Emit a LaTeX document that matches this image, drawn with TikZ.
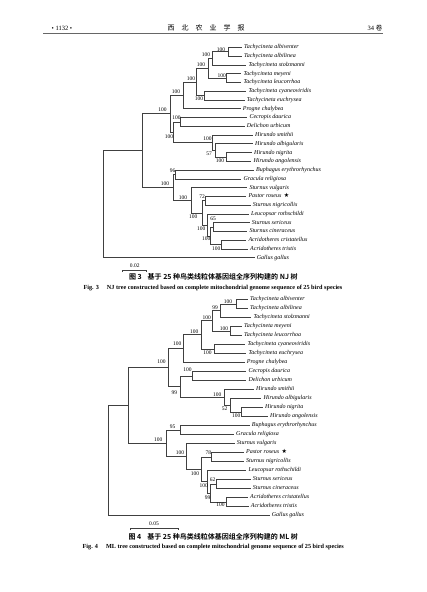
\documentclass[tikz,border=0pt]{standalone}
\usepackage{fontspec}
\setmainfont{Liberation Serif}
\newfontfamily\cjk{Noto Sans CJK SC}
\newfontfamily\cjkb{Noto Sans CJK SC Bold}
\newfontfamily\symf{DejaVu Sans}
\begin{document}
\begin{tikzpicture}[x=1pt,y=-1pt,
  br/.style={draw=black!75, line width=0.5pt},
  leaf/.style={anchor=west, inner xsep=2pt, inner ysep=0pt, font=\fontsize{6}{6}\selectfont\itshape, text height=4.2pt, text depth=1.2pt},
  bs/.style={inner sep=0pt, font=\fontsize{5.5}{5.5}\selectfont},
  hdr/.style={inner sep=0pt, font=\fontsize{6.5}{6.5}\selectfont},
  capzh/.style={inner sep=0pt, font=\fontsize{7}{7}\selectfont\cjkb},
  capen/.style={inner sep=0pt, font=\fontsize{6.2}{6.2}\selectfont\bfseries},
  sbar/.style={draw=black!75, line width=0.5pt},
]
\useasboundingbox (0,0) rectangle (427,592);
% header
\node[hdr] (pg) at (62,28.3) {• 1132 •};
\node[hdr,font=\fontsize{7}{7}\selectfont\cjk] (jt) at (206,28.3) {西\hspace{7pt}北\hspace{7pt}农\hspace{7pt}业\hspace{7pt}学\hspace{7pt}报};
\node[hdr] (vol) at (375,28.3) {34 {\cjk 卷}};
\coordinate (hl1) at (43.3,33.7);
\coordinate (hl2) at (383.3,33.7);
\draw[black!60, line width=0.9pt] (hl1) -- (hl2);

% ================= NJ tree =================
\node[leaf] (n0) at (242,47.3) {Tachycineta albiventer};
\node[leaf] (n1) at (242,56.07) {Tachycineta albilinea};
\node[leaf] (n2) at (246.3,64.83) {Tachycineta stolzmanni};
\node[leaf] (n3) at (241.3,73.6) {Tachycineta meyeni};
\node[leaf] (n4) at (241.3,82.37) {Tachycineta leucorrhoa};
\node[leaf] (n5) at (246.3,91.13) {Tachycineta cyaneoviridis};
\node[leaf] (n6) at (244.7,99.9) {Tachycineta euchrysea};
\node[leaf] (n7) at (240.7,108.67) {Progne chalybea};
\node[leaf] (n8) at (247.3,117.43) {Cecropis daurica};
\node[leaf] (n9) at (244.7,126.2) {Delichon urbicum};
\node[leaf] (n10) at (253,134.97) {Hirundo smithii};
\node[leaf] (n11) at (253,143.73) {Hirundo albigularis};
\node[leaf] (n12) at (252,152.5) {Hirundo nigrita};
\node[leaf] (n13) at (251.3,161.27) {Hirundo angolensis};
\node[leaf] (n14) at (254,170.03) {Buphagus erythrorhynchus};
\node[leaf] (n15) at (241.3,178.8) {Gracula religiosa};
\node[leaf] (n16) at (247.3,187.57) {Sturnus vulgaris};
\node[leaf] (n17) at (246.3,196.33) {Pastor roseus \,{\upshape\symf ★}};
\node[leaf] (n18) at (250.7,205.1) {Sturnus nigricollis};
\node[leaf] (n19) at (249,213.87) {Leucopsar rothschildi};
\node[leaf] (n20) at (249.7,222.63) {Sturnus sericeus};
\node[leaf] (n21) at (247.3,231.4) {Sturnus cineraceus};
\node[leaf] (n22) at (246.3,240.17) {Acridotheres cristatellus};
\node[leaf] (n23) at (248,248.93) {Acridotheres tristis};
\node[leaf] (n24) at (254.7,257.7) {Gallus gallus};

\coordinate (nT1) at (228.3,51.69);
\coordinate (nT2) at (212.5,58.26);
\coordinate (nT3) at (226.7,77.99);
\coordinate (nT4) at (208.3,68.12);
\coordinate (nT5) at (204,95.52);
\coordinate (nT6) at (196.7,81.82);
\coordinate (nT7) at (183.3,95.25);
\coordinate (nH1) at (180.5,121.82);
\coordinate (nHN) at (226,156.89);
\coordinate (nH57) at (215,150.31);
\coordinate (nH2) at (212.5,142.64);
\coordinate (nH) at (173.5,132.23);
\coordinate (nHn) at (170,113.74);
\coordinate (nBG) at (175.5,174.42);
\coordinate (nPR) at (205,200.72);
\coordinate (nSS) at (213,227.02);
\coordinate (nA) at (221.7,244.55);
\coordinate (nQ) at (210.5,235.78);
\coordinate (nL) at (207.3,224.83);
\coordinate (nX) at (202.7,212.77);
\coordinate (nSt) at (191.7,200.17);
\coordinate (nSd) at (173.3,187.3);
\coordinate (nIn) at (142.7,150.52);
\coordinate (nR) at (103,204.1);

\draw[br] (nT1) |- (n0); \draw[br] (nT1) |- (n1);
\draw[br] (nT2) |- (nT1); \draw[br] (nT2) |- (n2);
\draw[br] (nT3) |- (n3); \draw[br] (nT3) |- (n4);
\draw[br] (nT4) |- (nT2); \draw[br] (nT4) |- (nT3);
\draw[br] (nT5) |- (n5); \draw[br] (nT5) |- (n6);
\draw[br] (nT6) |- (nT4); \draw[br] (nT6) |- (nT5);
\draw[br] (nT7) |- (nT6); \draw[br] (nT7) |- (n7);
\draw[br] (nH1) |- (n8); \draw[br] (nH1) |- (n9);
\draw[br] (nHN) |- (n12); \draw[br] (nHN) |- (n13);
\draw[br] (nH57) |- (n11); \draw[br] (nH57) |- (nHN);
\draw[br] (nH2) |- (n10); \draw[br] (nH2) |- (nH57);
\draw[br] (nH) |- (nH1); \draw[br] (nH) |- (nH2);
\draw[br] (nHn) |- (nT7); \draw[br] (nHn) |- (nH);
\draw[br] (nBG) |- (n14); \draw[br] (nBG) |- (n15);
\draw[br] (nPR) |- (n17); \draw[br] (nPR) |- (n18);
\draw[br] (nSS) |- (n20); \draw[br] (nSS) |- (n21);
\draw[br] (nA) |- (n22); \draw[br] (nA) |- (n23);
\draw[br] (nQ) |- (nSS); \draw[br] (nQ) |- (nA);
\draw[br] (nL) |- (n19); \draw[br] (nL) |- (nQ);
\draw[br] (nX) |- (nPR); \draw[br] (nX) |- (nL);
\draw[br] (nSt) |- (n16); \draw[br] (nSt) |- (nX);
\draw[br] (nSd) |- (nBG); \draw[br] (nSd) |- (nSt);
\draw[br] (nIn) |- (nHn); \draw[br] (nIn) |- (nSd);
\draw[br] (nR) |- (nIn); \draw[br] (nR) |- (n24);

\node[bs] (bT1) at (221,49.5) {100};
\node[bs] (bT2) at (206,55) {100};
\node[bs] (bT3) at (221.7,75.7) {100};
\node[bs] (bT4) at (201,65) {100};
\node[bs] (bT5) at (199,98.3) {100};
\node[bs] (bT6) at (191,78.3) {100};
\node[bs] (bT7) at (176,91.7) {100};
\node[bs] (bHn) at (162.5,110) {100};
\node[bs] (bH1) at (176.5,117.5) {100};
\node[bs] (bH) at (169,136.5) {100};
\node[bs] (bH2) at (207.5,138.5) {100};
\node[bs] (bH57) at (209,154) {57};
\node[bs] (bHN) at (220,160.5) {100};
\node[bs] (bSd) at (165,183.3) {100};
\node[bs] (bBG) at (172.5,171) {96};
\node[bs] (bSt) at (183,197.5) {100};
\node[bs] (bPR) at (202,196.5) {72};
\node[bs] (bX) at (193.3,216.7) {100};
\node[bs] (bL) at (201.3,228.3) {100};
\node[bs] (bQ) at (206.2,238.3) {100};
\node[bs] (bSS) at (213,218.5) {65};
\node[bs] (bA) at (216.2,248.3) {100};

\coordinate (s1a) at (122.7,270);
\coordinate (s1b) at (146.7,270);
\draw[sbar] ([yshift=-2pt]s1a) -- (s1a) -- (s1b) -- ([yshift=-2pt]s1b);
\node[bs] (s1t) at (134.7,265.5) {0.02};

\node[capzh] (c1zh) at (213.3,276.7) {图 3\hspace{6pt}基于 25 种鸟类线粒体基因组全序列构建的 NJ 树};
\node[capen] (c1en) at (213,287.7) {Fig. 3\hspace{8pt}NJ tree constructed based on complete mitochondrial genome sequence of 25 bird species};

% ================= ML tree =================
\node[leaf] (m0) at (248,299.3) {Tachycineta albiventer};
\node[leaf] (m1) at (248,308.3) {Tachycineta albilinea};
\node[leaf] (m2) at (251.3,317.3) {Tachycineta stolzmanni};
\node[leaf] (m3) at (242,326.3) {Tachycineta meyeni};
\node[leaf] (m4) at (242,335.3) {Tachycineta leucorrhoa};
\node[leaf] (m5) at (245.3,344.3) {Tachycineta cyaneoviridis};
\node[leaf] (m6) at (246.3,353.3) {Tachycineta euchrysea};
\node[leaf] (m7) at (244.7,362.3) {Progne chalybea};
\node[leaf] (m8) at (246.3,371.3) {Cecropis daurica};
\node[leaf] (m9) at (246.3,380.3) {Delichon urbicum};
\node[leaf] (m10) at (254,389.3) {Hirundo smithii};
\node[leaf] (m11) at (261.3,398.3) {Hirundo albigularis};
\node[leaf] (m12) at (263,407.3) {Hirundo nigrita};
\node[leaf] (m13) at (268,416.3) {Hirundo angolensis};
\node[leaf] (m14) at (249.7,425.3) {Buphagus erythrorhynchus};
\node[leaf] (m15) at (234,434.3) {Gracula religiosa};
\node[leaf] (m16) at (234.7,443.3) {Sturnus vulgaris};
\node[leaf] (m17) at (244,452.3) {Pastor roseus \,{\upshape\symf ★}};
\node[leaf] (m18) at (244,461.3) {Sturnus nigricollis};
\node[leaf] (m19) at (246.3,470.3) {Leucopsar rothschildi};
\node[leaf] (m20) at (250.7,479.3) {Sturnus sericeus};
\node[leaf] (m21) at (250.7,488.3) {Sturnus cineraceus};
\node[leaf] (m22) at (248,497.3) {Acridotheres cristatellus};
\node[leaf] (m23) at (248.7,506.3) {Acridotheres tristis};
\node[leaf] (m24) at (269.7,515.3) {Gallus gallus};

\coordinate (mT1) at (236,303.8);
\coordinate (mT2) at (220.7,310.55);
\coordinate (mT3) at (230,330.8);
\coordinate (mT4) at (212.7,320.68);
\coordinate (mT5) at (214,348.8);
\coordinate (mT6) at (201.7,334.74);
\coordinate (mT7) at (183.3,348.52);
\coordinate (mH1) at (192.7,375.8);
\coordinate (mHN) at (241.7,411.8);
\coordinate (mH52) at (230,405.05);
\coordinate (mH2) at (224,397.18);
\coordinate (mH) at (180,386.49);
\coordinate (mHn) at (168.3,367.5);
\coordinate (mBG) at (180,429.8);
\coordinate (mPR) at (211.7,456.8);
\coordinate (mSS) at (216.7,483.8);
\coordinate (mA) at (226,501.8);
\coordinate (mQ) at (210.7,492.8);
\coordinate (mL) at (207.3,481.55);
\coordinate (mX) at (201.7,469.18);
\coordinate (mSt) at (186.7,456.24);
\coordinate (mSd) at (166.7,443.02);
\coordinate (mIn) at (128.3,405.26);
\coordinate (mR) at (108,460.3);

\draw[br] (mT1) |- (m0); \draw[br] (mT1) |- (m1);
\draw[br] (mT2) |- (mT1); \draw[br] (mT2) |- (m2);
\draw[br] (mT3) |- (m3); \draw[br] (mT3) |- (m4);
\draw[br] (mT4) |- (mT2); \draw[br] (mT4) |- (mT3);
\draw[br] (mT5) |- (m5); \draw[br] (mT5) |- (m6);
\draw[br] (mT6) |- (mT4); \draw[br] (mT6) |- (mT5);
\draw[br] (mT7) |- (mT6); \draw[br] (mT7) |- (m7);
\draw[br] (mH1) |- (m8); \draw[br] (mH1) |- (m9);
\draw[br] (mHN) |- (m12); \draw[br] (mHN) |- (m13);
\draw[br] (mH52) |- (m11); \draw[br] (mH52) |- (mHN);
\draw[br] (mH2) |- (m10); \draw[br] (mH2) |- (mH52);
\draw[br] (mH) |- (mH1); \draw[br] (mH) |- (mH2);
\draw[br] (mHn) |- (mT7); \draw[br] (mHn) |- (mH);
\draw[br] (mBG) |- (m14); \draw[br] (mBG) |- (m15);
\draw[br] (mPR) |- (m17); \draw[br] (mPR) |- (m18);
\draw[br] (mSS) |- (m20); \draw[br] (mSS) |- (m21);
\draw[br] (mA) |- (m22); \draw[br] (mA) |- (m23);
\draw[br] (mQ) |- (mSS); \draw[br] (mQ) |- (mA);
\draw[br] (mL) |- (m19); \draw[br] (mL) |- (mQ);
\draw[br] (mX) |- (mPR); \draw[br] (mX) |- (mL);
\draw[br] (mSt) |- (m16); \draw[br] (mSt) |- (mX);
\draw[br] (mSd) |- (mBG); \draw[br] (mSd) |- (mSt);
\draw[br] (mIn) |- (mHn); \draw[br] (mIn) |- (mSd);
\draw[br] (mR) |- (mIn); \draw[br] (mR) |- (m24);

\node[bs] (cT1) at (228,301.7) {100};
\node[bs] (cT2) at (215,307.3) {99};
\node[bs] (cT3) at (224,329) {100};
\node[bs] (cT4) at (206.7,317.3) {100};
\node[bs] (cT5) at (207.5,353) {100};
\node[bs] (cT6) at (194.2,331.7) {100};
\node[bs] (cT7) at (177.2,343.3) {100};
\node[bs] (cHn) at (161.5,361.7) {100};
\node[bs] (cH1) at (187.5,370) {100};
\node[bs] (cH) at (174.3,392.5) {99};
\node[bs] (cH2) at (217.2,394.3) {100};
\node[bs] (cH52) at (224.5,408.3) {52};
\node[bs] (cHN) at (236.2,415.7) {100};
\node[bs] (cSd) at (158.3,439.5) {100};
\node[bs] (cBG) at (172.5,426.3) {95};
\node[bs] (cSt) at (180,452.3) {100};
\node[bs] (cPR) at (208.3,452.3) {78};
\node[bs] (cX) at (195,474) {100};
\node[bs] (cL) at (203.8,486) {100};
\node[bs] (cQ) at (207.5,497.3) {99};
\node[bs] (cSS) at (212.5,479.3) {62};
\node[bs] (cA) at (220.5,505) {100};

\coordinate (s2a) at (130,528.3);
\coordinate (s2b) at (178,528.3);
\draw[sbar] ([yshift=-2pt]s2a) -- (s2a) -- (s2b) -- ([yshift=-2pt]s2b);
\node[bs] (s2t) at (154,523.3) {0.05};

\node[capzh] (c2zh) at (213.3,537) {图 4\hspace{6pt}基于 25 种鸟类线粒体基因组全序列构建的 ML 树};
\node[capen] (c2en) at (213.3,547) {Fig. 4\hspace{8pt}ML tree constructed based on complete mitochondrial genome sequence of 25 bird species};
\end{tikzpicture}
\end{document}
